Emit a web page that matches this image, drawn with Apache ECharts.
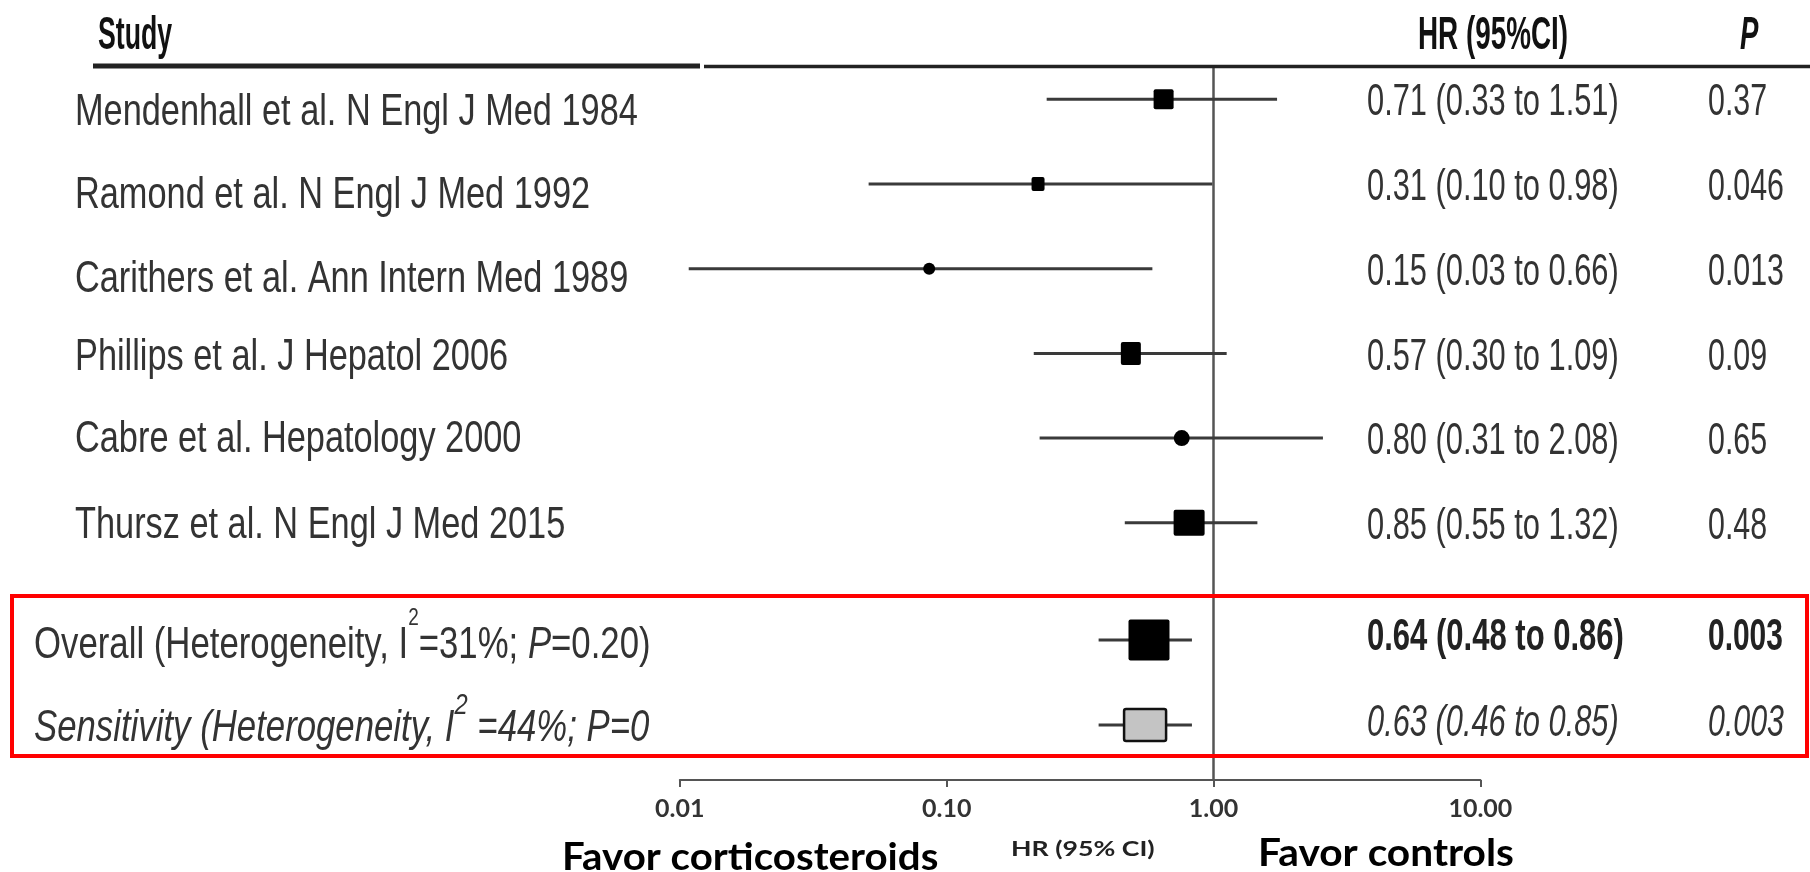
<!DOCTYPE html>
<html><head><meta charset="utf-8">
<script src="https://cdn.jsdelivr.net/npm/echarts@6/dist/echarts.min.js"></script>
<style>html,body{margin:0;padding:0;background:#fff}#c{width:1810px;height:872px}</style>
</head><body><div id="c"></div>
<script>
// ---- data ----
const studies = ['Mendenhall et al. N Engl J Med 1984', 'Ramond et al. N Engl J Med 1992', 'Carithers et al. Ann Intern Med 1989', 'Phillips et al. J Hepatol 2006', 'Cabre et al. Hepatology 2000', 'Thursz et al. N Engl J Med 2015'];
const hrText = ['0.71 (0.33 to 1.51)', '0.31 (0.10 to 0.98)', '0.15 (0.03 to 0.66)', '0.57 (0.30 to 1.09)', '0.80 (0.31 to 2.08)', '0.85 (0.55 to 1.32)'];
const pText = ['0.37', '0.046', '0.013', '0.09', '0.65', '0.48'];
// plotted marks
const hrPoint = [0.65, 0.22, 0.086, 0.49, 0.76, 0.81];
const ciLow = [0.237, 0.051, 0.0108, 0.212, 0.223, 0.465];
const ciHigh = [1.73, 0.99, 0.59, 1.12, 2.57, 1.46];

const summaryHrText = ['0.64 (0.48 to 0.86)', '0.63 (0.46 to 0.85)'];
const summaryPText = ['0.003', '0.003'];
const summaryPoint = [0.573, 0.554];
const summaryLow = [0.371, 0.371];
const summaryHigh = [0.83, 0.83];

const tickLabelDigits = 2; // tick labels: 0.01, 0.10, 1.00, 10.00

// ---- styles (not data) ----
const markShape = ['rect', 'rect', 'circle', 'rect', 'circle', 'rect', 'rect', 'rect'];
const markW = [20, 13, 12, 20, 16, 31, 41, 42];
const markH = [20, 14, 12, 23, 16, 26, 41, 32];
const markFill = ['#000', '#000', '#000', '#000', '#000', '#000', '#000', '#c4c4c4'];
const summaryGap = 1.384, summaryStep = 1.003;
const rowPos = i => i < studies.length ? i : (studies.length - 1) + summaryGap + (i - studies.length) * summaryStep;

const seriesData = [];
for (let i = 0; i < studies.length; i++) seriesData.push([hrPoint[i], ciLow[i], ciHigh[i], rowPos(i), i]);
for (let j = 0; j < summaryPoint.length; j++) seriesData.push([summaryPoint[j], summaryLow[j], summaryHigh[j], rowPos(studies.length + j), studies.length + j]);

const chart = echarts.init(document.getElementById('c'), null, {renderer: 'canvas'});
const option = {
  animation: false,
  backgroundColor: '#fff',
  grid: {left: 679.8, right: 329.6, top: 66, bottom: 92, containLabel: false},
  xAxis: {
    type: 'log', logBase: 10, min: 0.01, max: 10,
    axisLine: {show: true, onZero: false, lineStyle: {color: '#555', width: 2}},
    axisTick: {show: true, length: 7, lineStyle: {color: '#555', width: 2}},
    axisLabel: {formatter: v => Number(v).toFixed(tickLabelDigits), fontFamily: 'Lato', fontWeight: 'bold', fontSize: 25, color: '#333', margin: 16},
    splitLine: {show: false}
  },
  yAxis: {type: 'value', inverse: true, min: -0.393, max: 8.037, show: false, splitLine: {show: false}},
  series: [{
    type: 'custom',
    clip: false,
    encode: {x: 0, y: 3},
    data: seriesData,
    renderItem: function (params, api) {
      const row = api.value(3), k = api.value(4);
      const p = api.coord([api.value(0), row]);
      const l = api.coord([api.value(1), row]);
      const h = api.coord([api.value(2), row]);
      const kids = [{type: 'line', shape: {x1: l[0], y1: l[1], x2: h[0], y2: h[1]}, style: {stroke: '#3a3a3a', lineWidth: 3}}];
      const w = markW[k], hh = markH[k];
      if (markShape[k] === 'circle') {
        kids.push({type: 'circle', shape: {cx: p[0], cy: p[1], r: w / 2}, style: {fill: '#000'}});
      } else {
        kids.push({type: 'rect', shape: {x: p[0] - w / 2, y: p[1] - hh / 2, width: w, height: hh, r: 2},
          style: {fill: markFill[k], stroke: k === 7 ? '#111' : null, lineWidth: k === 7 ? 2.5 : 0}});
      }
      return {type: 'group', children: kids};
    },
    markLine: {silent: true, symbol: 'none', label: {show: false}, lineStyle: {color: '#555', width: 2.5, type: 'solid'}, data: [{xAxis: 1}]},
    z: 5
  }]
};
chart.setOption(option);

const rowY = r => chart.convertToPixel({gridIndex: 0}, [1, r])[1];
function T(x, y, text, o) {
  o = o || {};
  const st = {text: text, fill: o.fill || '#333', fontFamily: o.ff || 'Liberation Sans', fontSize: o.fs || 44,
    fontWeight: o.fw || 'normal', fontStyle: o.fst || 'normal', align: 'left', verticalAlign: 'middle'};
  if (o.rich) st.rich = o.rich;
  return {type: 'text', x: x, y: y, scaleX: o.sx || 1, z: 30, silent: true, style: st};
}
const g = [];
// header
g.push({type: 'line', z: 20, shape: {x1: 93, y1: 66, x2: 700, y2: 66}, style: {stroke: '#222', lineWidth: 5}});
g.push({type: 'line', z: 20, shape: {x1: 704, y1: 66.5, x2: 1810, y2: 66.5}, style: {stroke: '#222', lineWidth: 3.5}});
g.push(T(98, 36, 'Study', {fw: 'bold', fs: 46, sx: 0.58, fill: '#111'}));
g.push(T(1418, 36, 'HR (95%CI)', {fw: 'bold', fs: 46, sx: 0.605, fill: '#111'}));
g.push(T(1740, 36, 'P', {fw: 'bold', fst: 'italic', fs: 46, sx: 0.6, fill: '#111'}));
// study rows
const studyOff = [14, 12, 11, 4, 2, 3];
for (let i = 0; i < studies.length; i++) {
  const y = rowY(rowPos(i));
  g.push(T(75, y + studyOff[i], studies[i], {sx: 0.78}));
  g.push(T(1367, y + 4, hrText[i], {sx: 0.70}));
  g.push(T(1708, y + 4, pText[i], {sx: 0.69}));
}
// summary rows
const yo = rowY(rowPos(studies.length)), ys = rowY(rowPos(studies.length + 1));
const base = {fontSize: 44, fontFamily: 'Liberation Sans', fill: '#333', lineHeight: 79};
g.push(T(34, yo + 6, '{n|Overall (Heterogeneity, I}{s|2}{n|=31%; }{ni|P}{n|=0.20)}', {sx: 0.79, rich: {
  n: base,
  ni: Object.assign({}, base, {fontStyle: 'italic'}),
  s: {fontSize: 24, fontFamily: 'Liberation Sans', fill: '#333', lineHeight: 24, verticalAlign: 'top'}
}}));
const basei = {fontSize: 44, fontFamily: 'Liberation Sans', fill: '#333', lineHeight: 77, fontStyle: 'italic'};
g.push(T(34, ys + 4, '{i|Sensitivity (Heterogeneity, I}{s|2}{i| =44%; P=0}', {sx: 0.79, rich: {
  i: basei,
  s: {fontSize: 30, fontFamily: 'Liberation Sans', fill: '#333', lineHeight: 30, verticalAlign: 'top', fontStyle: 'italic'}
}}));
g.push(T(1367, yo - 2, summaryHrText[0], {sx: 0.705, fw: 'bold', fill: '#222'}));
g.push(T(1708, yo - 2, summaryPText[0], {sx: 0.68, fw: 'bold', fill: '#222'}));
g.push(T(1367, ys - 1, summaryHrText[1], {sx: 0.70, fst: 'italic'}));
g.push(T(1708, ys - 1, summaryPText[1], {sx: 0.69, fst: 'italic'}));
// red box
g.push({type: 'rect', z: 40, shape: {x: 12, y: 596, width: 1795, height: 160}, style: {fill: 'none', stroke: '#ff0000', lineWidth: 4}});
// bottom labels
g.push(T(562, 858, 'Favor corticosteroids', {ff: 'Lato', fw: 'bold', fs: 38, sx: 1.06, fill: '#000'}));
g.push(T(1258, 854, 'Favor controls', {ff: 'Lato', fw: 'bold', fs: 38, sx: 1.07, fill: '#000'}));
g.push(T(1011, 849.5, 'HR (95% CI)', {ff: 'Lato', fw: 'bold', fs: 21, sx: 1.27, fill: '#222'}));
chart.setOption({graphic: g});
</script></body></html>
